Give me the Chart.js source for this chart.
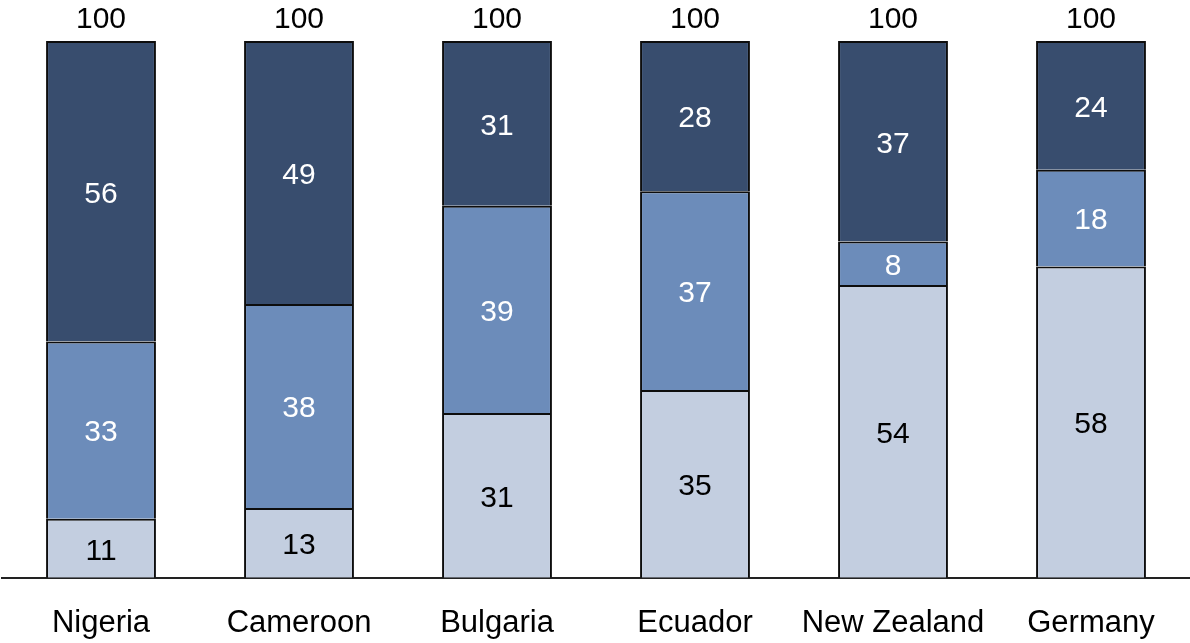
<!DOCTYPE html>
<html>
<head>
<meta charset="utf-8">
<script src="https://cdn.jsdelivr.net/npm/chart.js@4.4.1/dist/chart.umd.min.js"></script>
<style>
  html, body { margin: 0; padding: 0; background: #ffffff; overflow: hidden; }
  #wrap { width: 1190px; height: 643px; overflow: hidden; }
</style>
</head>
<body>
<div id="wrap"><canvas id="c" width="1190" height="669"></canvas></div>
<script>
// Countries along the horizontal axis
const countries = ['Nigeria', 'Cameroon', 'Bulgaria', 'Ecuador', 'New Zealand', 'Germany'];
// Shares per country (percent, rounded as labelled), stacked bottom to top
const shareLow  = [11, 13, 31, 35, 54, 58];
const shareMid  = [33, 38, 39, 37, 8, 18];
const shareHigh = [56, 49, 31, 28, 37, 24];
// Column totals shown above each bar
const totals = [100, 100, 100, 100, 100, 100];

const FONT = '"Liberation Sans", Arial, sans-serif';

// Each column is a 100% stack: scale rounded shares by their column sum
const series = [shareLow, shareMid, shareHigh];
const colSums = countries.map((_, i) => series.reduce((s, arr) => s + arr[i], 0));
const toStack = arr => arr.map((v, i) => v / colSums[i] * totals[i]);

const segmentLabels = {
  id: 'segmentLabels',
  afterDatasetsDraw(chart) {
    const ctx = chart.ctx;
    ctx.save();
    ctx.font = '30px ' + FONT;
    ctx.textAlign = 'center';
    chart.data.datasets.forEach((ds, di) => {
      const meta = chart.getDatasetMeta(di);
      ctx.fillStyle = ds.labelColor;
      ctx.textBaseline = 'middle';
      meta.data.forEach((bar, i) => {
        const p = bar.getProps(['x', 'y', 'base'], true);
        ctx.fillText(String(ds.rawShares[i]), p.x, (p.y + p.base) / 2 + 3);
      });
    });
    // totals above the stacks
    const topMeta = chart.getDatasetMeta(chart.data.datasets.length - 1);
    ctx.fillStyle = '#000000';
    ctx.textBaseline = 'alphabetic';
    topMeta.data.forEach((bar, i) => {
      const p = bar.getProps(['x', 'y'], true);
      ctx.fillText(String(totals[i]), p.x, p.y - 13);
    });
    ctx.restore();
  }
};

new Chart(document.getElementById('c'), {
  type: 'bar',
  data: {
    labels: countries,
    datasets: [
      { data: toStack(shareLow),  rawShares: shareLow,  backgroundColor: '#c3cee0', labelColor: '#000000' },
      { data: toStack(shareMid),  rawShares: shareMid,  backgroundColor: '#6c8cba', labelColor: '#ffffff' },
      { data: toStack(shareHigh), rawShares: shareHigh, backgroundColor: '#384d6e', labelColor: '#ffffff' }
    ].map(d => Object.assign(d, {
      borderColor: '#0d0d0d',
      borderWidth: 2,
      inflateAmount: 0,
      barPercentage: 0.555,
      categoryPercentage: 1.0
    }))
  },
  options: {
    responsive: false,
    animation: false,
    layout: { padding: { top: 41, left: 2, right: 0, bottom: 0 } },
    plugins: { legend: { display: false }, tooltip: { enabled: false } },
    scales: {
      x: {
        stacked: true,
        grid: { display: false, drawTicks: false },
        border: { display: true, color: '#222222', width: 2 },
        ticks: { color: '#000000', font: { family: FONT, size: 31 }, padding: 27 }
      },
      y: {
        stacked: true,
        display: false,
        min: 0,
        max: 100
      }
    }
  },
  plugins: [segmentLabels]
});
</script>
</body>
</html>
